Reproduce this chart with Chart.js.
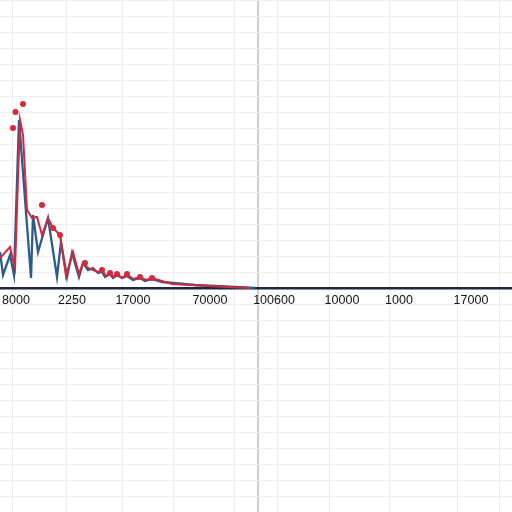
<!DOCTYPE html>
<html>
<head>
<meta charset="utf-8">
<script src="https://cdn.jsdelivr.net/npm/chart.js@4/dist/chart.umd.min.js"></script>
<style>
html,body{margin:0;padding:0;background:#fff;}
#c{display:block;}
</style>
</head>
<body>
<canvas id="c" width="512" height="512"></canvas>
<script>
// Blue series
const blueX = [0, 3, 10, 14, 19, 26, 31, 33, 38, 48, 57, 61, 67, 72, 79, 83, 88, 93, 98, 102, 105, 110, 113, 117, 122, 127, 133, 140, 145, 152, 162, 195, 235, 255];
const blueValues = [36, 13, 33, 13, 168, 76, 10, 73, 36, 70, 11, 46, 11, 35, 11, 25, 18, 20, 15, 16, 11, 14, 10, 13, 10, 12, 8, 10, 7, 9, 6, 3, 1, 0];
// Red series
const redX = [0, 10, 15, 20, 23, 27, 32, 37, 42, 48, 53, 60, 66, 73, 79, 83, 88, 93, 98, 102, 106, 110, 114, 117, 122, 127, 133, 140, 146, 152, 172, 228, 250];
const redValues = [30, 41, 20, 168, 153, 78, 70, 71, 53, 70, 60, 53, 12, 36, 14, 25, 20, 18, 16, 18, 12, 15, 11, 14, 10, 14, 9, 11, 8, 10, 4, 1, 0];
// Red markers
const dotX = [13, 15.5, 23, 42, 53, 60, 85, 102, 110, 117, 127, 140, 152];
const dotValues = [160, 176, 184, 83, 60, 53, 25, 18, 15, 14, 14, 11, 10];
// X tick labels
const tickPositions = [16, 72, 133, 210, 274, 342, 399, 471];
const tickLabels = ['8000', '2250', '17000', '70000', '100600', '10000', '1000', '17000'];
// vertical grid positions
const gridPositions = [12, 66, 122, 173, 234, 258, 277, 329, 389, 457, 499];
const majorGrid = 258;

const toPts = (xs, ys) => xs.map((x, i) => ({x: x, y: ys[i]}));

new Chart(document.getElementById('c'), {
  type: 'line',
  data: {
    datasets: [
      {
        data: toPts(dotX, dotValues),
        showLine: false,
        pointRadius: 3,
        pointBackgroundColor: '#d42a3c',
        pointBorderWidth: 0,
        order: 0,
        xAxisID: 'x', yAxisID: 'y'
      },
      {
        data: toPts(redX, redValues),
        borderColor: '#d0283e',
        borderWidth: 2,
        pointRadius: 0,
        tension: 0,
        fill: false,
        order: 1,
        xAxisID: 'x', yAxisID: 'y'
      },
      {
        data: toPts(blueX, blueValues),
        borderColor: '#2d5b8c',
        borderWidth: 2.3,
        pointRadius: 0,
        tension: 0,
        fill: false,
        order: 2,
        xAxisID: 'x', yAxisID: 'y'
      }
    ]
  },
  options: {
    responsive: false,
    animation: false,
    layout: {padding: 0, autoPadding: false},
    plugins: {legend: {display: false}, tooltip: {enabled: false}},
    scales: {
      xg: {
        type: 'linear', min: 0, max: 512, position: 'top',
        afterBuildTicks: s => { s.ticks = gridPositions.map(v => ({value: v})); },
        ticks: {display: false},
        grid: {
          drawTicks: false,
          color: c => (c.tick && c.tick.value === majorGrid) ? '#cdcdcd' : '#ececec',
          lineWidth: c => (c.tick && c.tick.value === majorGrid) ? 2 : 1
        },
        border: {display: false}
      },
      x: {
        type: 'linear', min: 0, max: 512,
        position: {y: 0},
        afterBuildTicks: s => { s.ticks = tickPositions.map(v => ({value: v})); },
        ticks: {
          autoSkip: false,
          maxRotation: 0,
          padding: 0,
          color: '#111111',
          font: {family: 'Liberation Sans, Arial, sans-serif', size: 12.5},
          callback: (v, i) => tickLabels[i]
        },
        grid: {drawTicks: true, tickLength: 5, tickColor: 'rgba(0,0,0,0)', color: 'rgba(0,0,0,0)'},
        border: {display: true, color: '#1e2838', width: 2.5}
      },
      y: {
        type: 'linear', min: -224, max: 288,
        afterBuildTicks: s => {
          const t = [];
          for (let v = -224; v <= 288; v += 16) t.push({value: v});
          s.ticks = t;
        },
        ticks: {display: false},
        grid: {drawTicks: false, color: '#efefef'},
        border: {display: false}
      }
    }
  }
});
</script>
</body>
</html>
